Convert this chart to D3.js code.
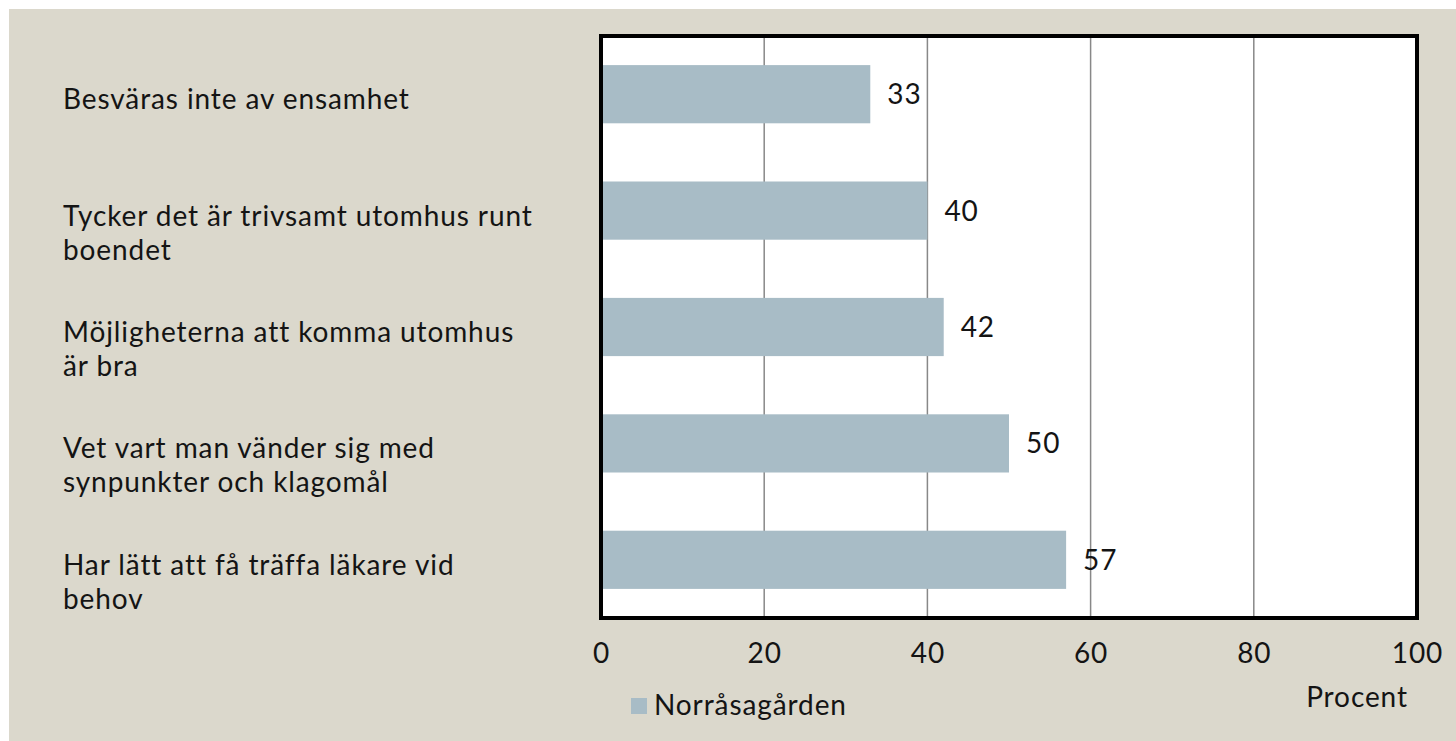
<!DOCTYPE html>
<html><head>
<meta charset="utf-8">
<script src="https://d3js.org/d3.v7.min.js"></script>
<style>
  body { margin: 0; background: #fff; }
  text { font-family: Lato, "Open Sans", sans-serif; fill: #141414; letter-spacing: 0.9px; }
  .tick line { display: none; }
  .domain { display: none; }
</style>
</head>
<body>
<svg id="chart" width="1456" height="741"></svg>
<script>
// data
const categories = [
  ["Besväras inte av ensamhet"],
  ["Tycker det är trivsamt utomhus runt", "boendet"],
  ["Möjligheterna att komma utomhus", "är bra"],
  ["Vet vart man vänder sig med", "synpunkter och klagomål"],
  ["Har lätt att få träffa läkare vid", "behov"]
];
const values = [33, 40, 42, 50, 57];
const tickValues = [0, 20, 40, 60, 80, 100];
const seriesName = "Norråsagården";
const axisTitle = "Procent";

const svg = d3.select("#chart");
const fontSize = 28;

// beige background panel
svg.append("rect").attr("x", 9).attr("y", 9)
   .attr("width", 1456 - 9).attr("height", 741 - 9)
   .attr("fill", "#dbd8cc");

const plotLeft = 601, plotRight = 1417, plotTop = 36, plotBottom = 618;

const x = d3.scaleLinear().domain([0, 100]).range([plotLeft, plotRight]);
const y = d3.scaleBand().domain(d3.range(values.length))
            .range([plotTop, plotBottom])
            .paddingInner(0.5).paddingOuter(0.25);

// plot area
svg.append("rect").attr("x", plotLeft).attr("y", plotTop)
   .attr("width", plotRight - plotLeft).attr("height", plotBottom - plotTop)
   .attr("fill", "#fff");

// gridlines
svg.selectAll("line.grid").data(tickValues.slice(1, -1))
   .join("line").attr("class", "grid")
   .attr("x1", d => x(d)).attr("x2", d => x(d))
   .attr("y1", plotTop).attr("y2", plotBottom)
   .attr("stroke", "#888").attr("stroke-width", 1.5);

// bars
svg.selectAll("rect.bar").data(values)
   .join("rect").attr("class", "bar")
   .attr("x", x(0))
   .attr("y", (d, i) => y(i))
   .attr("width", d => x(d) - x(0))
   .attr("height", y.bandwidth())
   .attr("fill", "#a8bcc6");

// border
svg.append("rect").attr("x", plotLeft).attr("y", plotTop)
   .attr("width", plotRight - plotLeft).attr("height", plotBottom - plotTop)
   .attr("fill", "none").attr("stroke", "#000").attr("stroke-width", 4);

// value labels
svg.selectAll("text.val").data(values)
   .join("text").attr("class", "val")
   .attr("x", d => x(d) + 17)
   .attr("y", (d, i) => y(i) + y.bandwidth() / 2 + 10)
   .attr("font-size", fontSize)
   .text(d => d);

// category labels
const cat = svg.selectAll("text.cat").data(categories)
   .join("text").attr("class", "cat")
   .attr("x", 63)
   .attr("y", (d, i) => y(i) + y.bandwidth() / 2 + 15)
   .attr("font-size", fontSize);
cat.selectAll("tspan").data(d => d)
   .join("tspan")
   .attr("x", 63)
   .attr("dy", (d, j) => j === 0 ? 0 : 34)
   .text(d => d);

// x axis tick labels
const axis = svg.append("g")
   .attr("transform", `translate(0,${plotBottom})`)
   .call(d3.axisBottom(x).tickValues(tickValues).tickSize(0).tickPadding(25));
axis.selectAll("text").attr("font-size", fontSize).attr("fill", "#141414");
axis.attr("font-family", null).attr("font-size", null);

// axis title
svg.append("text").attr("x", 1357).attr("y", 707)
   .attr("text-anchor", "middle").attr("font-size", fontSize)
   .text(axisTitle);

// legend
svg.append("rect").attr("x", 631).attr("y", 698)
   .attr("width", 16).attr("height", 16).attr("fill", "#a8bcc6");
svg.append("text").attr("x", 654).attr("y", 715)
   .attr("font-size", fontSize).text(seriesName);
</script>
</body></html>
